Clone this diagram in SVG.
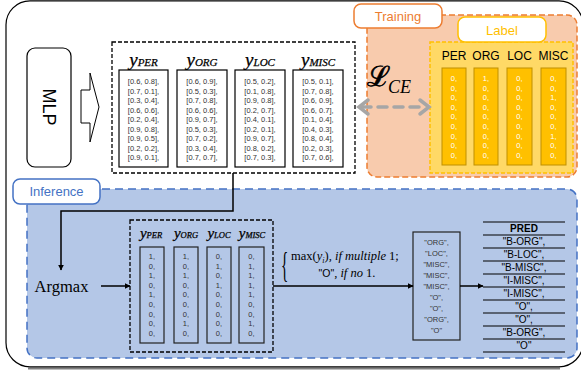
<svg xmlns="http://www.w3.org/2000/svg" width="581" height="374" viewBox="0 0 581 374">
  <defs>
    <marker id="arr" viewBox="0 0 10 10" refX="9" refY="5" markerWidth="6" markerHeight="6" orient="auto" markerUnits="userSpaceOnUse">
      <path d="M0,0 L10,5 L0,10 z" fill="#000"/>
    </marker>
    <style>
      .sans { font-family: "Liberation Sans", Arial, sans-serif; }
      .serif { font-family: "Liberation Serif", "Times New Roman", serif; }
      .val { font-family: "Liberation Sans", Arial, sans-serif; font-size: 7.5px; fill: #333; text-anchor: middle; }
      .lval { font-family: "Liberation Sans", Arial, sans-serif; font-size: 7.5px; fill: #fff; text-anchor: middle; }
      .col { fill: #fff; stroke: #000; stroke-width: 1.2; }
      .colb { fill: #B4C7E7; stroke: #222; stroke-width: 1.2; }
      .gold { fill: #FFC000; stroke: #BF9000; stroke-width: 1; }
      .dash { fill: none; stroke: #000; stroke-width: 1.3; stroke-dasharray: 4 2; }
      .ylab { font-family: "Liberation Serif", "Times New Roman", serif; font-style: italic; text-anchor: middle; stroke: #000; stroke-width: 0.25; }
      .hdr { font-family: "Liberation Sans", Arial, sans-serif; font-size: 12px; fill: #000; text-anchor: middle; }
      .link { fill: none; stroke: #000; stroke-width: 1.5; }
      .pred { font-family: "Liberation Sans", Arial, sans-serif; font-size: 10px; fill: #000; text-anchor: middle; }
    </style>
  </defs>

  <rect width="581" height="374" fill="#fff"/>

  <!-- outer frame with soft bottom shadow -->
  <path d="M28 368.6 H560" stroke="#808080" stroke-width="2" fill="none"/>
  <rect x="6" y="0.8" width="577" height="366" rx="24" fill="#fff" stroke="#000" stroke-width="1.2"/>

  <!-- MLP block -->
  <g id="mlp">
    <rect x="27" y="48" width="44" height="119" rx="8" fill="#fff" stroke="#000" stroke-width="1.2"/>
    <text class="sans" font-size="18" text-anchor="middle" transform="translate(49,107) rotate(90)" dy="6.5">MLP</text>
  </g>

  <!-- hollow block arrow -->
  <g id="mlp-arrow">
    <polygon points="81,90 90,90 90,73 99,107 90,142 90,123 81,123" fill="#fff" stroke="#000" stroke-width="1"/>
  </g>

  <!-- Training region -->
  <g id="training">
    <rect x="367" y="15" width="210" height="162" rx="10" fill="#F8CBAD" stroke="#ED7D31" stroke-width="1.5" stroke-dasharray="6 3"/>
    <rect x="354" y="4" width="88" height="24" rx="7" fill="#fff" stroke="#ED7D31" stroke-width="1.5"/>
    <text class="sans" x="398" y="21" font-size="13" fill="#ED7D31" text-anchor="middle">Training</text>
  </g>

  <!-- Label block -->
  <g id="label">
    <rect x="430" y="42" width="143" height="131" fill="#FFD966" stroke="#FFC000" stroke-width="1.5" stroke-dasharray="4 2"/>
    <rect x="458" y="17" width="88" height="25" rx="7" fill="#fff" stroke="#FFC000" stroke-width="1.5"/>
    <text class="sans" x="502" y="35" font-size="13" fill="#FFC000" text-anchor="middle">Label</text>
    <text class="hdr" x="454" y="60">PER</text>
    <text class="hdr" x="486" y="60">ORG</text>
    <text class="hdr" x="519.5" y="60">LOC</text>
    <text class="hdr" x="553.5" y="60">MISC</text>
    <rect class="gold" x="442" y="68" width="24" height="97"/>
    <rect class="gold" x="474" y="68" width="24" height="97"/>
    <rect class="gold" x="507" y="68" width="25" height="97"/>
    <rect class="gold" x="541" y="68" width="25" height="97"/>
    <text class="lval" x="454" y="81">0,<tspan x="454" dy="9.6">0,</tspan><tspan x="454" dy="9.6">0,</tspan><tspan x="454" dy="9.6">0,</tspan><tspan x="454" dy="9.6">0,</tspan><tspan x="454" dy="9.6">0,</tspan><tspan x="454" dy="9.6">0,</tspan><tspan x="454" dy="9.6">0,</tspan><tspan x="454" dy="9.6">0,</tspan></text>
    <text class="lval" x="486" y="81">1,<tspan x="486" dy="9.6">0,</tspan><tspan x="486" dy="9.6">0,</tspan><tspan x="486" dy="9.6">0,</tspan><tspan x="486" dy="9.6">0,</tspan><tspan x="486" dy="9.6">0,</tspan><tspan x="486" dy="9.6">0,</tspan><tspan x="486" dy="9.6">0,</tspan><tspan x="486" dy="9.6">0,</tspan></text>
    <text class="lval" x="519.5" y="81">0,<tspan x="519.5" dy="9.6">0,</tspan><tspan x="519.5" dy="9.6">0,</tspan><tspan x="519.5" dy="9.6">0,</tspan><tspan x="519.5" dy="9.6">0,</tspan><tspan x="519.5" dy="9.6">0,</tspan><tspan x="519.5" dy="9.6">0,</tspan><tspan x="519.5" dy="9.6">0,</tspan><tspan x="519.5" dy="9.6">0,</tspan></text>
    <text class="lval" x="553.5" y="81">0,<tspan x="553.5" dy="9.6">0,</tspan><tspan x="553.5" dy="9.6">1,</tspan><tspan x="553.5" dy="9.6">0,</tspan><tspan x="553.5" dy="9.6">0,</tspan><tspan x="553.5" dy="9.6">0,</tspan><tspan x="553.5" dy="9.6">1,</tspan><tspan x="553.5" dy="9.6">0,</tspan><tspan x="553.5" dy="9.6">0,</tspan></text>
  </g>

  <!-- Inference region -->
  <g id="inference">
    <rect x="27" y="189" width="550" height="169" rx="10" fill="#B4C7E7" stroke="#4472C4" stroke-width="1.5" stroke-dasharray="8 5"/>
    <rect x="13" y="179" width="87" height="25" rx="7" fill="#fff" stroke="#4472C4" stroke-width="1.5"/>
    <text class="sans" x="56.5" y="196" font-size="13" fill="#4472C4" text-anchor="middle">Inference</text>
  </g>

  <!-- MLP output probabilities -->
  <g id="probs">
    <rect class="dash" x="112" y="42" width="243" height="131"/>
    <text class="ylab" x="143.5" y="66" font-size="19">y<tspan font-size="11">PER</tspan></text>
    <text class="ylab" x="202" y="66" font-size="19">y<tspan font-size="11">ORG</tspan></text>
    <text class="ylab" x="260" y="66" font-size="19">y<tspan font-size="11">LOC</tspan></text>
    <text class="ylab" x="318" y="66" font-size="19">y<tspan font-size="11">MISC</tspan></text>
    <rect class="col" x="119" y="70" width="49" height="97"/>
    <rect class="col" x="177" y="70" width="50" height="97"/>
    <rect class="col" x="235" y="70" width="50" height="97"/>
    <rect class="col" x="293" y="70" width="50" height="97"/>
    <text class="val" x="143.5" y="84">[0.6, 0.8],<tspan x="143.5" dy="9.5">[0.7, 0.1],</tspan><tspan x="143.5" dy="9.5">[0.3, 0.4],</tspan><tspan x="143.5" dy="9.5">[0.6, 0.6],</tspan><tspan x="143.5" dy="9.5">[0.2, 0.4],</tspan><tspan x="143.5" dy="9.5">[0.9, 0.8],</tspan><tspan x="143.5" dy="9.5">[0.9, 0.5],</tspan><tspan x="143.5" dy="9.5">[0.2, 0.2],</tspan><tspan x="143.5" dy="9.5">[0.9, 0.1],</tspan></text>
    <text class="val" x="202" y="84">[0.6, 0.9],<tspan x="202" dy="9.5">[0.5, 0.3],</tspan><tspan x="202" dy="9.5">[0.7, 0.8],</tspan><tspan x="202" dy="9.5">[0.6, 0.6],</tspan><tspan x="202" dy="9.5">[0.9, 0.7],</tspan><tspan x="202" dy="9.5">[0.5, 0.3],</tspan><tspan x="202" dy="9.5">[0.7, 0.2],</tspan><tspan x="202" dy="9.5">[0.3, 0.4],</tspan><tspan x="202" dy="9.5">[0.7, 0.7],</tspan></text>
    <text class="val" x="260" y="84">[0.5, 0.2],<tspan x="260" dy="9.5">[0.1, 0.8],</tspan><tspan x="260" dy="9.5">[0.9, 0.8],</tspan><tspan x="260" dy="9.5">[0.2, 0.7],</tspan><tspan x="260" dy="9.5">[0.4, 0.1],</tspan><tspan x="260" dy="9.5">[0.2, 0.1],</tspan><tspan x="260" dy="9.5">[0.9, 0.7],</tspan><tspan x="260" dy="9.5">[0.8, 0.2],</tspan><tspan x="260" dy="9.5">[0.7, 0.3],</tspan></text>
    <text class="val" x="318" y="84">[0.5, 0.1],<tspan x="318" dy="9.5">[0.7, 0.8],</tspan><tspan x="318" dy="9.5">[0.6, 0.9],</tspan><tspan x="318" dy="9.5">[0.6, 0.7],</tspan><tspan x="318" dy="9.5">[0.1, 0.4],</tspan><tspan x="318" dy="9.5">[0.4, 0.3],</tspan><tspan x="318" dy="9.5">[0.8, 0.4],</tspan><tspan x="318" dy="9.5">[0.2, 0.3],</tspan><tspan x="318" dy="9.5">[0.7, 0.6],</tspan></text>
  </g>

  <!-- cross-entropy loss label -->
  <g id="loss">
    <text x="367" y="86" font-family="DejaVu Serif, serif" font-size="28" fill="#000" stroke="#000" stroke-width="0.7">ℒ</text>
    <text x="388" y="93" class="serif" font-style="italic" font-size="18" fill="#000">CE</text>
  </g>

  <!-- Argmax step -->
  <g id="argmax">
    <text class="serif" x="61.5" y="292" font-size="16.5" text-anchor="middle">Argmax</text>
  </g>

  <!-- binarised predictions -->
  <g id="binary">
    <rect class="dash" x="130" y="220" width="143" height="132"/>
    <text class="ylab" x="151" y="238" font-size="15">y<tspan font-size="8.5">PER</tspan></text>
    <text class="ylab" x="186" y="238" font-size="15">y<tspan font-size="8.5">ORG</tspan></text>
    <text class="ylab" x="219" y="238" font-size="15">y<tspan font-size="8.5">LOC</tspan></text>
    <text class="ylab" x="252" y="238" font-size="15">y<tspan font-size="8.5">MISC</tspan></text>
    <rect class="colb" x="140" y="247" width="24" height="96"/>
    <rect class="colb" x="174" y="247" width="24" height="96"/>
    <rect class="colb" x="207" y="247" width="24" height="96"/>
    <rect class="colb" x="239" y="247" width="25" height="96"/>
    <text class="val" x="152" y="259">1,<tspan x="152" dy="9.6">0,</tspan><tspan x="152" dy="9.6">1,</tspan><tspan x="152" dy="9.6">0,</tspan><tspan x="152" dy="9.6">1,</tspan><tspan x="152" dy="9.6">0,</tspan><tspan x="152" dy="9.6">0,</tspan><tspan x="152" dy="9.6">0,</tspan><tspan x="152" dy="9.6">0,</tspan></text>
    <text class="val" x="186" y="259">1,<tspan x="186" dy="9.6">0,</tspan><tspan x="186" dy="9.6">1,</tspan><tspan x="186" dy="9.6">0,</tspan><tspan x="186" dy="9.6">0,</tspan><tspan x="186" dy="9.6">0,</tspan><tspan x="186" dy="9.6">0,</tspan><tspan x="186" dy="9.6">1,</tspan><tspan x="186" dy="9.6">0,</tspan></text>
    <text class="val" x="219" y="259">0,<tspan x="219" dy="9.6">1,</tspan><tspan x="219" dy="9.6">0,</tspan><tspan x="219" dy="9.6">1,</tspan><tspan x="219" dy="9.6">0,</tspan><tspan x="219" dy="9.6">0,</tspan><tspan x="219" dy="9.6">0,</tspan><tspan x="219" dy="9.6">0,</tspan><tspan x="219" dy="9.6">0,</tspan></text>
    <text class="val" x="251.5" y="259">0,<tspan x="251.5" dy="9.6">1,</tspan><tspan x="251.5" dy="9.6">1,</tspan><tspan x="251.5" dy="9.6">1,</tspan><tspan x="251.5" dy="9.6">1,</tspan><tspan x="251.5" dy="9.6">0,</tspan><tspan x="251.5" dy="9.6">0,</tspan><tspan x="251.5" dy="9.6">1,</tspan><tspan x="251.5" dy="9.6">0,</tspan></text>
  </g>

  <!-- decoding rule -->
  <g id="rule">
    <text class="serif" x="0" y="0" font-size="36" transform="translate(281,277) scale(0.42,1)">{</text>
    <text class="serif" x="291" y="260" font-size="12.5">max(<tspan font-style="italic">y</tspan><tspan font-style="italic" font-size="8" dy="3">i</tspan><tspan dy="-3">)</tspan><tspan font-style="italic">, if multiple</tspan> 1;</text>
    <text class="serif" x="347" y="277" font-size="12.5" text-anchor="middle"><tspan class="sans" font-size="10.5">"O"</tspan><tspan font-style="italic">, if no</tspan> 1.</text>
  </g>

  <!-- predicted entity types -->
  <g id="types">
    <rect x="413" y="232" width="47" height="108" fill="#B4C7E7" stroke="#222" stroke-width="1.2"/>
    <text class="val" x="436.5" y="245">"ORG",<tspan x="436.5" dy="11">"LOC",</tspan><tspan x="436.5" dy="11">"MISC",</tspan><tspan x="436.5" dy="11">"MISC",</tspan><tspan x="436.5" dy="11">"MISC",</tspan><tspan x="436.5" dy="11">"O",</tspan><tspan x="436.5" dy="11">"O",</tspan><tspan x="436.5" dy="11">"ORG",</tspan><tspan x="436.5" dy="11">"O"</tspan></text>
  </g>

  <!-- BIO tag table -->
  <g id="pred">
    <g stroke="#000" stroke-width="1.2">
      <line x1="483" y1="222" x2="565" y2="222"/>
      <line x1="483" y1="235" x2="565" y2="235"/>
      <line x1="483" y1="248" x2="565" y2="248"/>
      <line x1="483" y1="261" x2="565" y2="261"/>
      <line x1="483" y1="274" x2="565" y2="274"/>
      <line x1="483" y1="287" x2="565" y2="287"/>
      <line x1="483" y1="300" x2="565" y2="300"/>
      <line x1="483" y1="313" x2="565" y2="313"/>
      <line x1="483" y1="326" x2="565" y2="326"/>
      <line x1="483" y1="339" x2="565" y2="339"/>
      <line x1="483" y1="352" x2="565" y2="352"/>
    </g>
    <text class="pred" x="524" y="232" font-weight="bold">PRED</text>
    <text class="pred" x="524" y="245">"B-ORG",</text>
    <text class="pred" x="524" y="258">"B-LOC",</text>
    <text class="pred" x="524" y="271">"B-MISC",</text>
    <text class="pred" x="524" y="284">"I-MISC",</text>
    <text class="pred" x="524" y="297">"I-MISC",</text>
    <text class="pred" x="524" y="310">"O",</text>
    <text class="pred" x="524" y="323">"O",</text>
    <text class="pred" x="524" y="336">"B-ORG",</text>
    <text class="pred" x="524" y="349">"O"</text>
  </g>

  <!-- connectors -->
  <g id="connectors">
    <path class="link" d="M233 173 V211 H61 V270" marker-end="url(#arr)"/>
    <path class="link" d="M101 286 H130" marker-end="url(#arr)"/>
    <path class="link" d="M273 286 H413" marker-end="url(#arr)"/>
    <path class="link" d="M460 286 H483" marker-end="url(#arr)"/>
    <!-- loss comparison, dashed two-way -->
    <g stroke="#A6A6A6" stroke-width="3.5" fill="none" stroke-linecap="round">
      <path d="M362 107 H426" stroke-dasharray="9 7"/>
      <path d="M368 100 L359 107 L368 114"/>
      <path d="M420 100 L429 107 L420 114"/>
    </g>
  </g>
</svg>
